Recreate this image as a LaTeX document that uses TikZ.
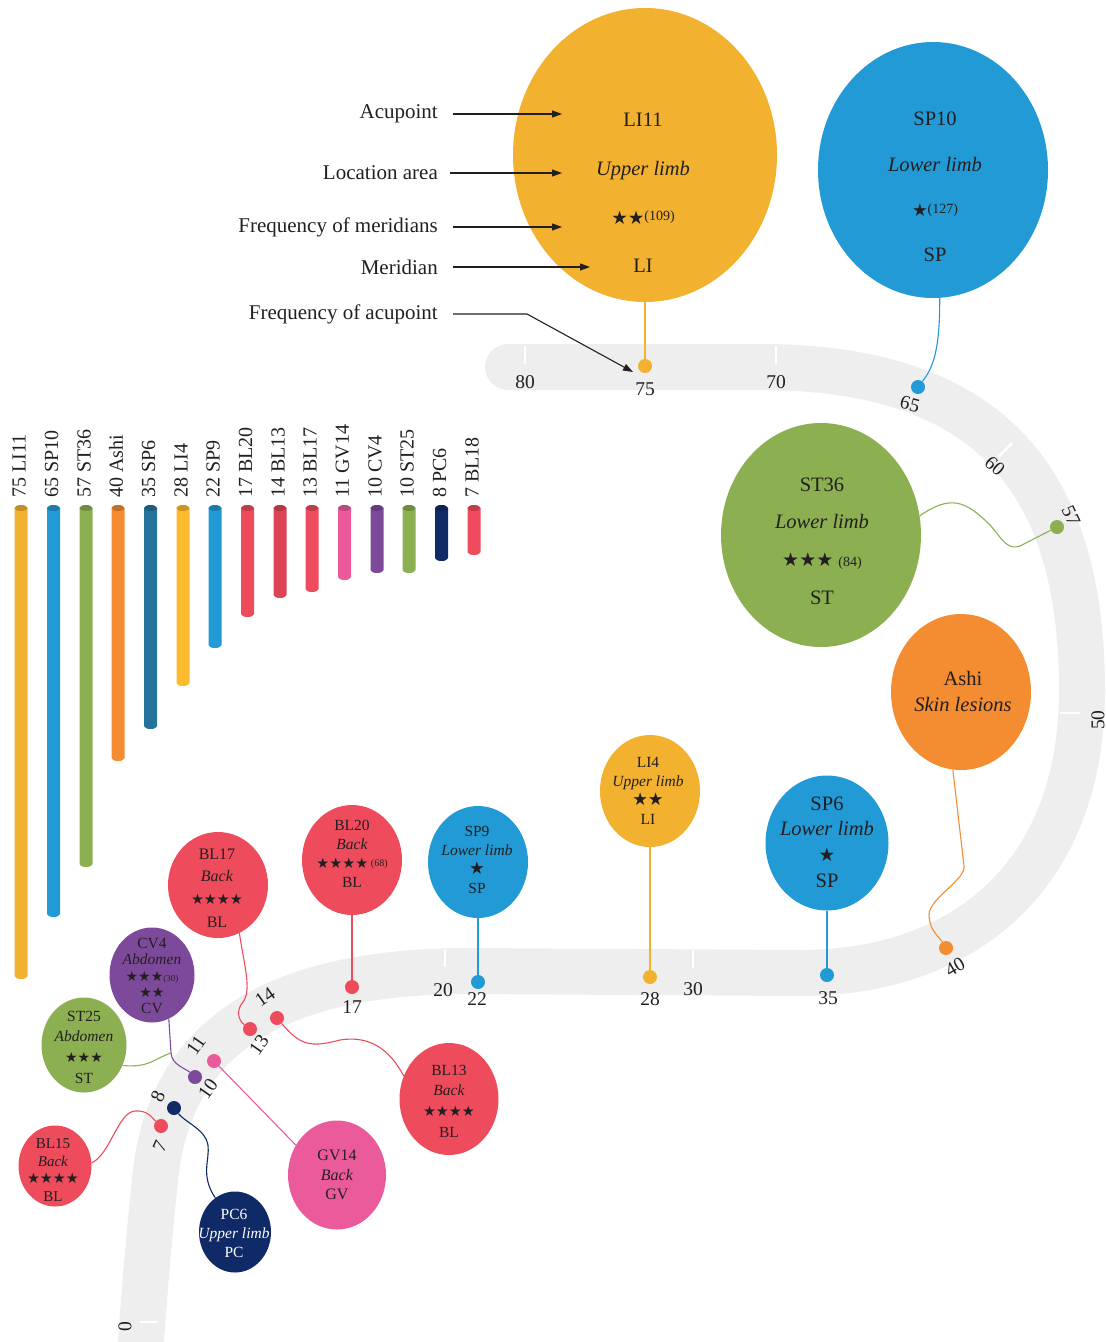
\documentclass[tikz,border=0pt]{standalone}
\usepackage{fontspec}
\setmainfont{Liberation Serif}
\newfontfamily\starfont{DejaVu Sans}
\usepackage{tikz}
\usetikzlibrary{arrows.meta, shapes.geometric}
\definecolor{ink}{HTML}{231F20}
\definecolor{track}{HTML}{EEEEEE}
\definecolor{cgold}{HTML}{F2B12F}
\definecolor{cblue}{HTML}{219AD6}
\definecolor{cgreen}{HTML}{8BAF51}
\definecolor{corange}{HTML}{F48C31}
\definecolor{cred}{HTML}{EE4C5C}
\definecolor{cdred}{HTML}{DD4556}
\definecolor{cpink}{HTML}{EB5A9B}
\definecolor{cpurple}{HTML}{7D4A9B}
\definecolor{cnavy}{HTML}{0F2A66}
\definecolor{cteal}{HTML}{24739A}
\definecolor{cyellow}{HTML}{FDBA2D}
\newcommand{\rating}[2]{{\starfont\fontsize{#1}{#1}\selectfont #2}}
\newcommand{\freq}[2]{{\fontsize{#1}{#1}\selectfont #2}}

\begin{document}
\begin{tikzpicture}[x=1pt, y=-1pt, >={Triangle[length=10pt,width=7pt]},
  bubble/.style={ellipse, inner sep=0pt},
  btxt/.style={align=center, inner sep=0pt, text=ink},
  dot/.style={circle, inner sep=0pt, minimum size=14pt},
  num/.style={font=\fontsize{19.5}{20}\selectfont, inner sep=0pt, text=ink},
  lnk/.style={line width=1.1pt},
  legend/.style={font=\fontsize{21}{22}\selectfont, anchor=east, inner sep=0pt, text=ink},
  barlab/.style={font=\fontsize{20}{20}\selectfont, rotate=90, anchor=west, inner sep=0pt, text=ink},
  trackmark/.style={draw=white, line width=2.5pt}]
  \useasboundingbox (0,0) rectangle (1106,1342);
  \clip (0,0) rectangle (1106,1342);

  % the grey track
  \draw[track, line width=46pt, line cap=round] (508,367) -- (760,367)
    .. controls (980,367) and (1082,470) .. (1082,690)
    .. controls (1082,880) and (960,973) .. (800,973) -- (470,971)
    .. controls (300,971) and (170,1020) .. (155,1180)
    .. controls (147,1260) .. (138,1380);
  \draw[trackmark] (525,346) -- (525,364);
  \draw[trackmark] (776,346) -- (776,364);
  \draw[trackmark] (998,457) -- (1012,443);
  \draw[trackmark] (1060,713) -- (1080,713);
  \draw[trackmark] (693,950) -- (693,968);
  \draw[trackmark] (445,949) -- (445,967);
  \draw[trackmark] (140,1322) -- (158,1322);
  \node[num] (n80) at (525,382) {80};
  \node[num] (n70) at (776,382) {70};
  \node[num, rotate=-42] (n60) at (995,466) {60};
  \node[num, rotate=90] (n50) at (1098,720) {50};
  \node[num] (n30) at (693,989) {30};
  \node[num] (n20) at (443,990) {20};
  \node[num, rotate=90] (n0) at (125,1327) {0};

  % bars
  \fill[cgold] (14.5,508) -- (14.5,976) arc (180:0:6.5 and 3) -- (27.5,508) -- cycle;
  \fill[cgold!80!black] (21,508) ellipse (6.5 and 3);
  \fill[cblue] (47,508) -- (47,914) arc (180:0:6.5 and 3) -- (60,508) -- cycle;
  \fill[cblue!80!black] (53.5,508) ellipse (6.5 and 3);
  \fill[cgreen] (79.5,508) -- (79.5,864) arc (180:0:6.5 and 3) -- (92.5,508) -- cycle;
  \fill[cgreen!80!black] (86,508) ellipse (6.5 and 3);
  \fill[corange] (111.5,508) -- (111.5,758) arc (180:0:6.5 and 3) -- (124.5,508) -- cycle;
  \fill[corange!80!black] (118,508) ellipse (6.5 and 3);
  \fill[cteal] (144,508) -- (144,726) arc (180:0:6.5 and 3) -- (157,508) -- cycle;
  \fill[cteal!80!black] (150.5,508) ellipse (6.5 and 3);
  \fill[cyellow] (176.5,508) -- (176.5,683) arc (180:0:6.5 and 3) -- (189.5,508) -- cycle;
  \fill[cyellow!80!black] (183,508) ellipse (6.5 and 3);
  \fill[cblue] (208.5,508) -- (208.5,645) arc (180:0:6.5 and 3) -- (221.5,508) -- cycle;
  \fill[cblue!80!black] (215,508) ellipse (6.5 and 3);
  \fill[cred] (241,508) -- (241,614) arc (180:0:6.5 and 3) -- (254,508) -- cycle;
  \fill[cred!80!black] (247.5,508) ellipse (6.5 and 3);
  \fill[cdred] (273.5,508) -- (273.5,595) arc (180:0:6.5 and 3) -- (286.5,508) -- cycle;
  \fill[cdred!80!black] (280,508) ellipse (6.5 and 3);
  \fill[cred] (305.5,508) -- (305.5,589) arc (180:0:6.5 and 3) -- (318.5,508) -- cycle;
  \fill[cred!80!black] (312,508) ellipse (6.5 and 3);
  \fill[cpink] (338,508) -- (338,577) arc (180:0:6.5 and 3) -- (351,508) -- cycle;
  \fill[cpink!80!black] (344.5,508) ellipse (6.5 and 3);
  \fill[cpurple] (370.5,508) -- (370.5,570) arc (180:0:6.5 and 3) -- (383.5,508) -- cycle;
  \fill[cpurple!80!black] (377,508) ellipse (6.5 and 3);
  \fill[cgreen] (402.5,508) -- (402.5,570) arc (180:0:6.5 and 3) -- (415.5,508) -- cycle;
  \fill[cgreen!80!black] (409,508) ellipse (6.5 and 3);
  \fill[cnavy] (435,508) -- (435,558) arc (180:0:6.5 and 3) -- (448,508) -- cycle;
  \fill[cnavy!80!black] (441.5,508) ellipse (6.5 and 3);
  \fill[cred] (467.5,508) -- (467.5,552) arc (180:0:6.5 and 3) -- (480.5,508) -- cycle;
  \fill[cred!80!black] (474,508) ellipse (6.5 and 3);
  \node[barlab] (b1) at (19,498) {75 LI11};
  \node[barlab] (b2) at (51.5,498) {65 SP10};
  \node[barlab] (b3) at (84,498) {57 ST36};
  \node[barlab] (b4) at (116,498) {40 Ashi};
  \node[barlab] (b5) at (148.5,498) {35 SP6};
  \node[barlab] (b6) at (181,498) {28 LI4};
  \node[barlab] (b7) at (213,498) {22 SP9};
  \node[barlab] (b8) at (245.5,498) {17 BL20};
  \node[barlab] (b9) at (278,498) {14 BL13};
  \node[barlab] (b10) at (310,498) {13 BL17};
  \node[barlab] (b11) at (342.5,498) {11 GV14};
  \node[barlab] (b12) at (375,498) {10 CV4};
  \node[barlab] (b13) at (407,498) {10 ST25};
  \node[barlab] (b14) at (439.5,498) {8 PC6};
  \node[barlab] (b15) at (472,498) {7 BL18};

  % bubbles
  \node[bubble, fill=cgold, minimum width=264pt, minimum height=294pt] (li11) at (645,155) {};
  \node[bubble, fill=cblue, minimum width=230pt, minimum height=256pt] (sp10) at (933,170) {};
  \node[bubble, fill=cgreen, minimum width=200pt, minimum height=224pt] (st36) at (821,535) {};
  \node[bubble, fill=corange, minimum width=140pt, minimum height=156pt] (ashi) at (961,692) {};
  \node[bubble, fill=cblue, minimum width=123pt, minimum height=135pt] (sp6) at (827,843) {};
  \node[bubble, fill=cgold, minimum width=100pt, minimum height=112pt] (li4) at (650,791) {};
  \node[bubble, fill=cblue, minimum width=100pt, minimum height=112pt] (sp9) at (478,862) {};
  \node[bubble, fill=cred, minimum width=100pt, minimum height=110pt] (bl20) at (352,860) {};
  \node[bubble, fill=cred, minimum width=100pt, minimum height=106pt] (bl17) at (218,885) {};
  \node[bubble, fill=cpurple, minimum width=85pt, minimum height=95pt] (cv4) at (152,975) {};
  \node[bubble, fill=cgreen, minimum width=85pt, minimum height=95pt] (st25) at (84,1045) {};
  \node[bubble, fill=cred, minimum width=73pt, minimum height=81pt] (bl15) at (55,1166) {};
  \node[bubble, fill=cnavy, minimum width=72pt, minimum height=81pt] (pc6) at (235,1232) {};
  \node[bubble, fill=cpink, minimum width=98pt, minimum height=109pt] (gv14) at (337,1175) {};
  \node[bubble, fill=cred, minimum width=99pt, minimum height=112pt] (bl13) at (449,1099) {};

  \node[btxt, font=\fontsize{20.5}{48.7}\selectfont] (li11t) at (643,193)
    {LI11\\\textit{Upper limb}\\\rating{18.5}{★★}\freq{14}{\raisebox{4pt}{(109)}}\\LI};
  \node[btxt, font=\fontsize{20.5}{45.3}\selectfont] (sp10t) at (935,187)
    {SP10\\\textit{Lower limb}\\\rating{17.5}{★}\freq{14}{\raisebox{3pt}{(127)}}\\SP};
  \node[btxt, font=\fontsize{20.5}{37.7}\selectfont] (st36t) at (822,541)
    {ST36\\\textit{Lower limb}\\\rating{19}{★★★}\ \freq{14}{(84)}\\ST};
  \node[btxt, font=\fontsize{20.5}{26}\selectfont] (ashit) at (963,691)
    {Ashi\\\textit{Skin lesions}};
  \node[btxt, font=\fontsize{20.5}{25.7}\selectfont] (sp6t) at (827,842)
    {SP6\\\textit{Lower limb}\\\rating{18.5}{★}\\SP};
  \node[btxt, font=\fontsize{15.5}{19}\selectfont] (li4t) at (648,791)
    {LI4\\\textit{Upper limb}\\\rating{17.5}{★★}\\LI};
  \node[btxt, font=\fontsize{15.5}{19}\selectfont] (sp9t) at (477,860)
    {SP9\\\textit{Lower limb}\\\rating{17.5}{★}\\SP};
  \node[btxt, font=\fontsize{15.5}{19}\selectfont] (bl20t) at (352,854)
    {BL20\\\textit{Back}\\\rating{14.5}{★★★★}\,\freq{10}{\raisebox{2pt}{(68)}}\\BL};
  \node[btxt, font=\fontsize{16}{22.7}\selectfont] (bl17t) at (217,888)
    {BL17\\\textit{Back}\\\rating{14.5}{★★★★}\\BL};
  \node[btxt, font=\fontsize{15.5}{16.25}\selectfont] (cv4t) at (152,976)
    {CV4\\\textit{Abdomen}\\\rating{14}{★★★}\freq{9}{(30)}\\\rating{14}{★★}\hspace*{20pt}\\CV};
  \node[btxt, font=\fontsize{15.5}{20.7}\selectfont] (st25t) at (84,1047)
    {ST25\\\textit{Abdomen}\\\rating{14}{★★★}\\ST};
  \node[btxt, font=\fontsize{15}{17.7}\selectfont] (bl15t) at (53,1170)
    {BL15\\\textit{Back}\\\rating{14.5}{★★★★}\\BL};
  \node[btxt, text=white, font=\fontsize{15.5}{19}\selectfont] (pc6t) at (234,1233)
    {PC6\\\textit{Upper limb}\\PC};
  \node[btxt, font=\fontsize{16}{19.5}\selectfont] (gv14t) at (337,1175)
    {GV14\\\textit{Back}\\GV};
  \node[btxt, font=\fontsize{15.5}{20.7}\selectfont] (bl13t) at (449,1101)
    {BL13\\\textit{Back}\\\rating{14.5}{★★★★}\\BL};

  % dots on the track
  \node[dot, fill=cgold] (d75) at (645,366) {};
  \node[dot, fill=cblue] (d65) at (918,387) {};
  \node[dot, fill=cgreen] (d57) at (1057,527) {};
  \node[dot, fill=corange] (d40) at (946,948) {};
  \node[dot, fill=cblue] (d35) at (827,975) {};
  \node[dot, fill=cgold] (d28) at (650,977) {};
  \node[dot, fill=cblue] (d22) at (478,982) {};
  \node[dot, fill=cred] (d17) at (352,987) {};
  \node[dot, fill=cred] (d14) at (277,1018) {};
  \node[dot, fill=cred] (d13) at (250,1029) {};
  \node[dot, fill=cpink] (d11) at (214,1061) {};
  \node[dot, fill=cpurple] (d10) at (195,1077) {};
  \node[dot, fill=cnavy] (d8) at (174,1108) {};
  \node[dot, fill=cred] (d7) at (161,1126) {};
  \node[num] (n75) at (645,389) {75};
  \node[num, rotate=-15] (n65) at (910,404) {65};
  \node[num, rotate=-65] (n57) at (1071,516) {57};
  \node[num, rotate=30] (n40) at (955,967) {40};
  \node[num] (n35) at (828,998) {35};
  \node[num] (n28) at (650,999) {28};
  \node[num] (n22) at (477,999) {22};
  \node[num] (n17) at (352,1007) {17};
  \node[num, rotate=35] (n14) at (265,997) {14};
  \node[num, rotate=55] (n13) at (259,1045) {13};
  \node[num, rotate=55] (n11) at (196,1045) {11};
  \node[num, rotate=55] (n10) at (208,1089) {10};
  \node[num, rotate=65] (n8) at (158,1096) {8};
  \node[num, rotate=65] (n7) at (160,1146) {7};

  % connectors
  \coordinate (m10) at (171,1053);
  \draw[lnk, cgold] (li11) -- (d75);
  \draw[lnk, cblue] (sp10.-87) .. controls (940,350) and (933,368) .. (d65);
  \draw[lnk, cgreen] (st36.11) .. controls (950,495) and (965,500) .. (990,525)
    .. controls (1003,540) and (1008,552) .. (1022,545) -- (d57);
  \draw[lnk, corange] (ashi.-96) -- (964,866) .. controls (966,880) and (929,898) .. (929,915)
    .. controls (929,930) and (940,938) .. (d40);
  \draw[lnk, cblue] (sp6) -- (d35);
  \draw[lnk, cgold] (li4) -- (d28);
  \draw[lnk, cblue] (sp9) -- (d22);
  \draw[lnk, cred] (bl20) -- (d17);
  \draw[lnk, cred] (bl17.-66) .. controls (244,965) and (252,990) .. (243,1002)
    .. controls (236,1010) and (238,1020) .. (d13);
  \draw[lnk, cred] (bl13.153) .. controls (390,1050) and (370,1035) .. (340,1040)
    .. controls (310,1048) and (300,1045) .. (d14);
  \draw[lnk, cpink] (gv14.144) -- (d11);
  \draw[lnk, cpurple] (cv4.-69) -- (m10) .. controls (172,1065) and (185,1068) .. (d10);
  \draw[lnk, cgreen] (st25.-28) .. controls (150,1068) and (155,1058) .. (m10);
  \draw[lnk, cred] (bl15.5) .. controls (110,1155) and (118,1112) .. (135,1111)
    .. controls (148,1110) and (152,1118) .. (d7);
  \draw[lnk, cnavy] (pc6.120) .. controls (200,1175) and (210,1160) .. (208,1145)
    .. controls (206,1130) and (185,1122) .. (d8);

  % legend
  \node[legend] (lacu) at (438,114) {Acupoint};
  \node[legend] (lloc) at (438,173) {Location area};
  \node[legend] (lmfr) at (438,227) {Frequency of meridians};
  \node[legend] (lmer) at (438,267) {Meridian};
  \node[legend] (lafr) at (438,314) {Frequency of acupoint};
  \coordinate (pacu) at (562,114);
  \coordinate (ploc) at (562,173);
  \coordinate (pmfr) at (562,227);
  \coordinate (pmer) at (590,267);
  \coordinate (pbend) at (527,314);
  \coordinate (pafr) at (633,372);
  \draw[->, line width=1.1pt, ink] ([xshift=15pt]lacu.east) -- (pacu);
  \draw[->, line width=1.1pt, ink] ([xshift=12pt]lloc.east) -- (ploc);
  \draw[->, line width=1.1pt, ink] ([xshift=15pt]lmfr.east) -- (pmfr);
  \draw[->, line width=1.1pt, ink] ([xshift=15pt]lmer.east) -- (pmer);
  \draw[->, line width=1.1pt, ink] ([xshift=15pt]lafr.east) -- (pbend) -- (pafr);
\end{tikzpicture}
\end{document}
